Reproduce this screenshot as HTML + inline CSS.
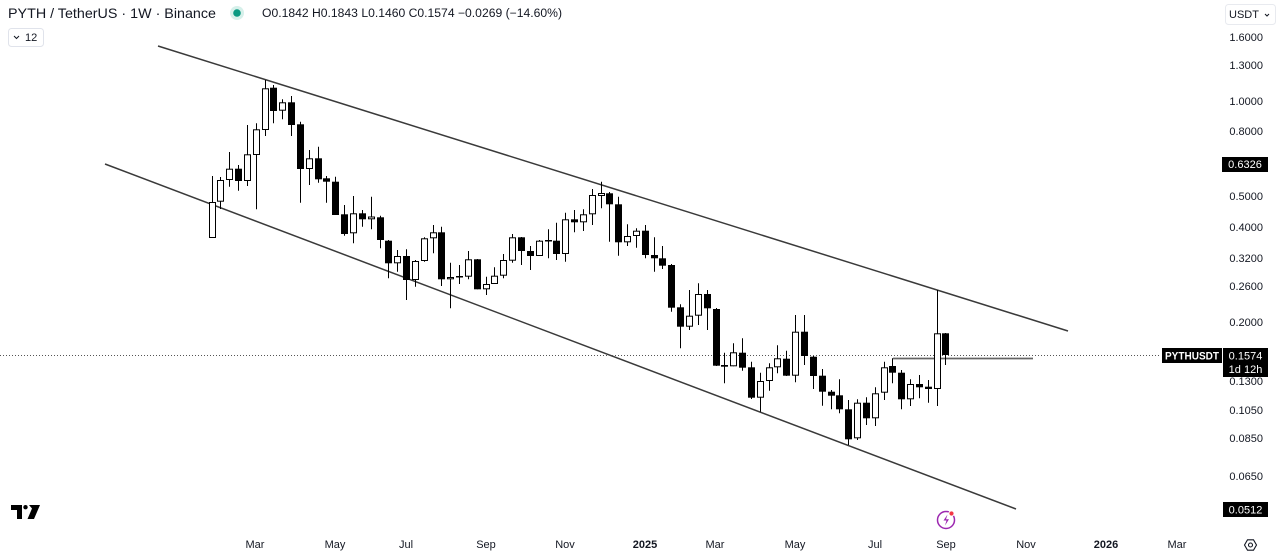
<!DOCTYPE html>
<html><head><meta charset="utf-8">
<style>
html,body{margin:0;padding:0;background:#fff;}
body{width:1280px;height:557px;overflow:hidden;font-family:"Liberation Sans",sans-serif;}
svg{display:block;}
.w{fill:#fff;stroke:#000;stroke-width:1;}
.b{fill:#000;}
.ax{font-family:"Liberation Sans",sans-serif;font-size:11px;fill:#131722;text-anchor:end;}
.tx{font-family:"Liberation Sans",sans-serif;font-size:11px;fill:#131722;text-anchor:middle;}
.lb{font-family:"Liberation Sans",sans-serif;font-size:11px;fill:#fff;}
</style></head>
<body>
<svg width="1280" height="557" viewBox="0 0 1280 557" xmlns="http://www.w3.org/2000/svg">
<rect width="1280" height="557" fill="#fff"/>
<text x="8" y="18" font-family="Liberation Sans, sans-serif" font-size="14" fill="#131722" textLength="208" lengthAdjust="spacingAndGlyphs">PYTH / TetherUS · 1W · Binance</text>
<circle cx="237" cy="13" r="7" fill="#d6f0ea"/>
<circle cx="237" cy="13" r="3.8" fill="#089981"/>
<text x="262" y="17" font-family="Liberation Sans, sans-serif" font-size="11.5" fill="#131722" textLength="300" lengthAdjust="spacingAndGlyphs">O0.1842 H0.1843 L0.1460 C0.1574 −0.0269 (−14.60%)</text>
<rect x="8.5" y="28.5" width="35" height="18" rx="3" fill="#fff" stroke="#e0e3eb"/>
<path d="M14 36l2.5 2.5L19 36" fill="none" stroke="#131722" stroke-width="1"/>
<text x="25" y="41" font-family="Liberation Sans, sans-serif" font-size="11" fill="#131722">12</text>
<rect x="1225.5" y="4.5" width="50" height="20" rx="3" fill="#fff" stroke="#e8eaef"/>
<text x="1229" y="18" font-family="Liberation Sans, sans-serif" font-size="11" fill="#131722">USDT</text>
<path d="M1265 14l2 2 2-2" fill="none" stroke="#131722" stroke-width="1"/>
<line x1="158" y1="46" x2="1068" y2="331" stroke="#3a3a3a" stroke-width="1.5"/>
<line x1="105" y1="164" x2="1016" y2="509" stroke="#3a3a3a" stroke-width="1.5"/>
<line x1="0" y1="355.5" x2="1160" y2="355.5" stroke="#555" stroke-width="1" stroke-dasharray="1 2"/>
<line x1="893" y1="358.5" x2="1033" y2="358.5" stroke="#666" stroke-width="1.8"/>
<path fill="none" stroke="#000" stroke-width="1" d="M212.5 176V238M220.5 177V209M229.5 152V186.7M238.5 165V190.7M247.5 125V186M256.5 123.3V209.3M265.5 80V136M273.5 85V123.3M282.5 99.3V119.3M291.5 96V136M300.5 121.7V202.7M309.5 150V185M318.5 146.7V182.7M326.5 176V202.7M335.5 176.7V215M344.5 205V235.7M353.5 196V243.3M362.5 210V226.7M371.5 196.7V229.3M380.5 215.7V248.3M388.5 240V278.3M397.5 250V271.7M406.5 249.3V300M415.5 260V286.7M424.5 237.3V261.7M433.5 225V253.3M441.5 226.7V286M450.5 262.7V308.3M459.5 265V284M468.5 251V279.3M477.5 259V289.3M486.5 276.7V295M494.5 267.3V284M503.5 254V278.3M512.5 234V262.7M521.5 237V265M530.5 246V270M539.5 240V256M548.5 229.3V258.3M556.5 222.7V260M565.5 212.7V261.7M574.5 210V232.3M583.5 209.3V231M592.5 189V225M601.5 181.7V208.3M609.5 192V241.7M618.5 196.7V255.7M627.5 224.3V246M636.5 228.3V247.7M645.5 225V258.3M654.5 237.3V271.7M662.5 246V269M671.5 264V311.7M680.5 304.3V348.3M689.5 290V330M698.5 283.3V325M707.5 290V330M716.5 308V366M724.5 352.7V383.3M733.5 343.3V366.3M742.5 338.3V370.7M751.5 361.7V399M760.5 372.7V411.7M769.5 363.3V390.7M777.5 345.3V373.3M786.5 350.7V376M795.5 315V382.3M804.5 315V365M813.5 356V389M822.5 369V405.7M831.5 390V409.3M839.5 379.3V413.3M848.5 400V445M857.5 399.3V440M866.5 397.3V425M875.5 387.3V426M884.5 361.7V400M892.5 358.3V383.3M901.5 370V409.3M910.5 379.3V406M919.5 375V398.3M928.5 380V402.7M937.5 290V406M945.5 333V365"/>
<g class="b">
<rect x="235" y="168.7" width="7" height="12.3"/>
<rect x="270" y="87.7" width="7" height="23.3"/>
<rect x="288" y="102.3" width="7" height="22.7"/>
<rect x="297" y="124.3" width="7" height="44.7"/>
<rect x="315" y="158.3" width="7" height="21"/>
<rect x="323" y="178.3" width="7" height="3.4"/>
<rect x="332" y="181.7" width="7" height="33.3"/>
<rect x="341" y="214.3" width="7" height="19.7"/>
<rect x="359" y="213.3" width="7" height="6"/>
<rect x="377" y="217.3" width="7" height="22.7"/>
<rect x="385" y="240.7" width="7" height="22.6"/>
<rect x="403" y="256" width="7" height="24"/>
<rect x="438" y="232.3" width="7" height="47"/>
<rect x="456" y="276" width="7" height="1.5"/>
<rect x="474" y="259.3" width="7" height="30"/>
<rect x="518" y="237.3" width="7" height="13.7"/>
<rect x="527" y="251" width="7" height="5"/>
<rect x="545" y="240" width="7" height="1.5"/>
<rect x="553" y="240.7" width="7" height="13.3"/>
<rect x="571" y="219.3" width="7" height="3"/>
<rect x="606" y="193.3" width="7" height="11"/>
<rect x="615" y="204.3" width="7" height="38"/>
<rect x="642" y="230.7" width="7" height="24.3"/>
<rect x="651" y="255" width="7" height="3.3"/>
<rect x="659" y="258.3" width="7" height="7.4"/>
<rect x="668" y="265" width="7" height="42.7"/>
<rect x="677" y="307.3" width="7" height="19.4"/>
<rect x="704" y="294" width="7" height="14.3"/>
<rect x="713" y="309" width="7" height="56.7"/>
<rect x="721" y="365" width="7" height="1.7"/>
<rect x="739" y="352.7" width="7" height="15"/>
<rect x="748" y="367.3" width="7" height="30.4"/>
<rect x="783" y="358.7" width="7" height="17"/>
<rect x="801" y="331.7" width="7" height="24.3"/>
<rect x="810" y="356.7" width="7" height="19.3"/>
<rect x="819" y="375.7" width="7" height="16"/>
<rect x="828" y="391.7" width="7" height="4"/>
<rect x="836" y="395.3" width="7" height="14"/>
<rect x="845" y="409.3" width="7" height="30"/>
<rect x="863" y="402.7" width="7" height="15.6"/>
<rect x="889" y="366" width="7" height="6.7"/>
<rect x="898" y="372.7" width="7" height="26.6"/>
<rect x="916" y="384" width="7" height="3.3"/>
<rect x="925" y="386.7" width="7" height="2.3"/>
<rect x="942" y="333.3" width="7" height="21.7"/>
</g>
<g class="w">
<rect x="209.5" y="202.5" width="6" height="35"/>
<rect x="217.5" y="180.5" width="6" height="20.7"/>
<rect x="226.5" y="169.2" width="6" height="10.3"/>
<rect x="244.5" y="154.8" width="6" height="25.7"/>
<rect x="253.5" y="129.8" width="6" height="24.7"/>
<rect x="262.5" y="88.8" width="6" height="40.7"/>
<rect x="279.5" y="102.8" width="6" height="7.4"/>
<rect x="306.5" y="158.8" width="6" height="9.7"/>
<rect x="350.5" y="213.8" width="6" height="19"/>
<rect x="368.5" y="217" width="6" height="1.8"/>
<rect x="394.5" y="256.5" width="6" height="6.3"/>
<rect x="412.5" y="261.5" width="6" height="18"/>
<rect x="421.5" y="238.8" width="6" height="21.7"/>
<rect x="430.5" y="232.8" width="6" height="5"/>
<rect x="447.5" y="277.5" width="6" height="1.3"/>
<rect x="465.5" y="259.8" width="6" height="16.4"/>
<rect x="483.5" y="284.5" width="6" height="4.3"/>
<rect x="491.5" y="276.2" width="6" height="7.3"/>
<rect x="500.5" y="260.5" width="6" height="14.7"/>
<rect x="509.5" y="237.8" width="6" height="22.4"/>
<rect x="536.5" y="241.2" width="6" height="14.3"/>
<rect x="562.5" y="219.8" width="6" height="33.7"/>
<rect x="580.5" y="214.8" width="6" height="7"/>
<rect x="589.5" y="195.5" width="6" height="18.3"/>
<rect x="598.5" y="193.5" width="6" height="2"/>
<rect x="624.5" y="236.5" width="6" height="5.3"/>
<rect x="633.5" y="231.2" width="6" height="4.3"/>
<rect x="686.5" y="316.2" width="6" height="10"/>
<rect x="695.5" y="294.5" width="6" height="20.7"/>
<rect x="730.5" y="352.8" width="6" height="13"/>
<rect x="757.5" y="381.5" width="6" height="15.7"/>
<rect x="766.5" y="367.8" width="6" height="12.7"/>
<rect x="774.5" y="358.8" width="6" height="8"/>
<rect x="792.5" y="332.2" width="6" height="43"/>
<rect x="854.5" y="403.2" width="6" height="34.6"/>
<rect x="872.5" y="393.8" width="6" height="24"/>
<rect x="881.5" y="367.8" width="6" height="24.4"/>
<rect x="907.5" y="384.5" width="6" height="14.3"/>
<rect x="934.5" y="333.8" width="6" height="54.7"/>
</g>
<text class="ax" x="1263" y="41">1.6000</text>
<text class="ax" x="1263" y="69">1.3000</text>
<text class="ax" x="1263" y="105">1.0000</text>
<text class="ax" x="1263" y="135">0.8000</text>
<text class="ax" x="1263" y="200">0.5000</text>
<text class="ax" x="1263" y="231">0.4000</text>
<text class="ax" x="1263" y="262">0.3200</text>
<text class="ax" x="1263" y="290">0.2600</text>
<text class="ax" x="1263" y="326">0.2000</text>
<text class="ax" x="1263" y="385">0.1300</text>
<text class="ax" x="1263" y="414">0.1050</text>
<text class="ax" x="1263" y="442">0.0850</text>
<text class="ax" x="1263" y="480">0.0650</text>
<rect x="1222" y="157" width="46" height="15" fill="#000"/>
<text class="lb" x="1245" y="168" text-anchor="middle">0.6326</text>
<rect x="1162" y="348" width="60" height="15" fill="#000"/>
<text class="lb" x="1192" y="359.5" text-anchor="middle" font-weight="bold" textLength="54" lengthAdjust="spacingAndGlyphs">PYTHUSDT</text>
<rect x="1223" y="348" width="45" height="29" fill="#000"/>
<text class="lb" x="1245.5" y="359.5" text-anchor="middle">0.1574</text>
<text class="lb" x="1245.5" y="373" text-anchor="middle">1d 12h</text>
<rect x="1223" y="502" width="45" height="15" fill="#000"/>
<text class="lb" x="1245.5" y="513.5" text-anchor="middle">0.0512</text>
<text class="tx" x="255" y="548">Mar</text>
<text class="tx" x="335" y="548">May</text>
<text class="tx" x="406" y="548">Jul</text>
<text class="tx" x="486" y="548">Sep</text>
<text class="tx" x="565" y="548">Nov</text>
<text class="tx" x="645" y="548" font-weight="bold" font-size="12">2025</text>
<text class="tx" x="715" y="548">Mar</text>
<text class="tx" x="795" y="548">May</text>
<text class="tx" x="875" y="548">Jul</text>
<text class="tx" x="946" y="548">Sep</text>
<text class="tx" x="1026" y="548">Nov</text>
<text class="tx" x="1106" y="548" font-weight="bold" font-size="12">2026</text>
<text class="tx" x="1177" y="548">Mar</text>
<path d="M1244.5 545l3-5.2h6l3 5.2-3 5.2h-6z" fill="none" stroke="#131722" stroke-width="1.1"/>
<circle cx="1250.5" cy="545" r="2" fill="none" stroke="#131722" stroke-width="1.1"/>
<circle cx="946" cy="520" r="8.5" fill="none" stroke="#9c27b0" stroke-width="1.5"/>
<path d="M947.5 514.5l-4 6h3l-1.5 5 4-6.2h-3z" fill="#9c27b0"/>
<circle cx="951.5" cy="513.5" r="2.6" fill="#f23645" stroke="#fff" stroke-width="1"/>
<path d="M11 505h11v14h-5v-9h-6z" fill="#000"/>
<circle cx="25.5" cy="507.2" r="2.2" fill="#000"/>
<path d="M29 505h11l-6 14h-6.5l4.5-10.5z" fill="#000"/>
</svg>
</body></html>
